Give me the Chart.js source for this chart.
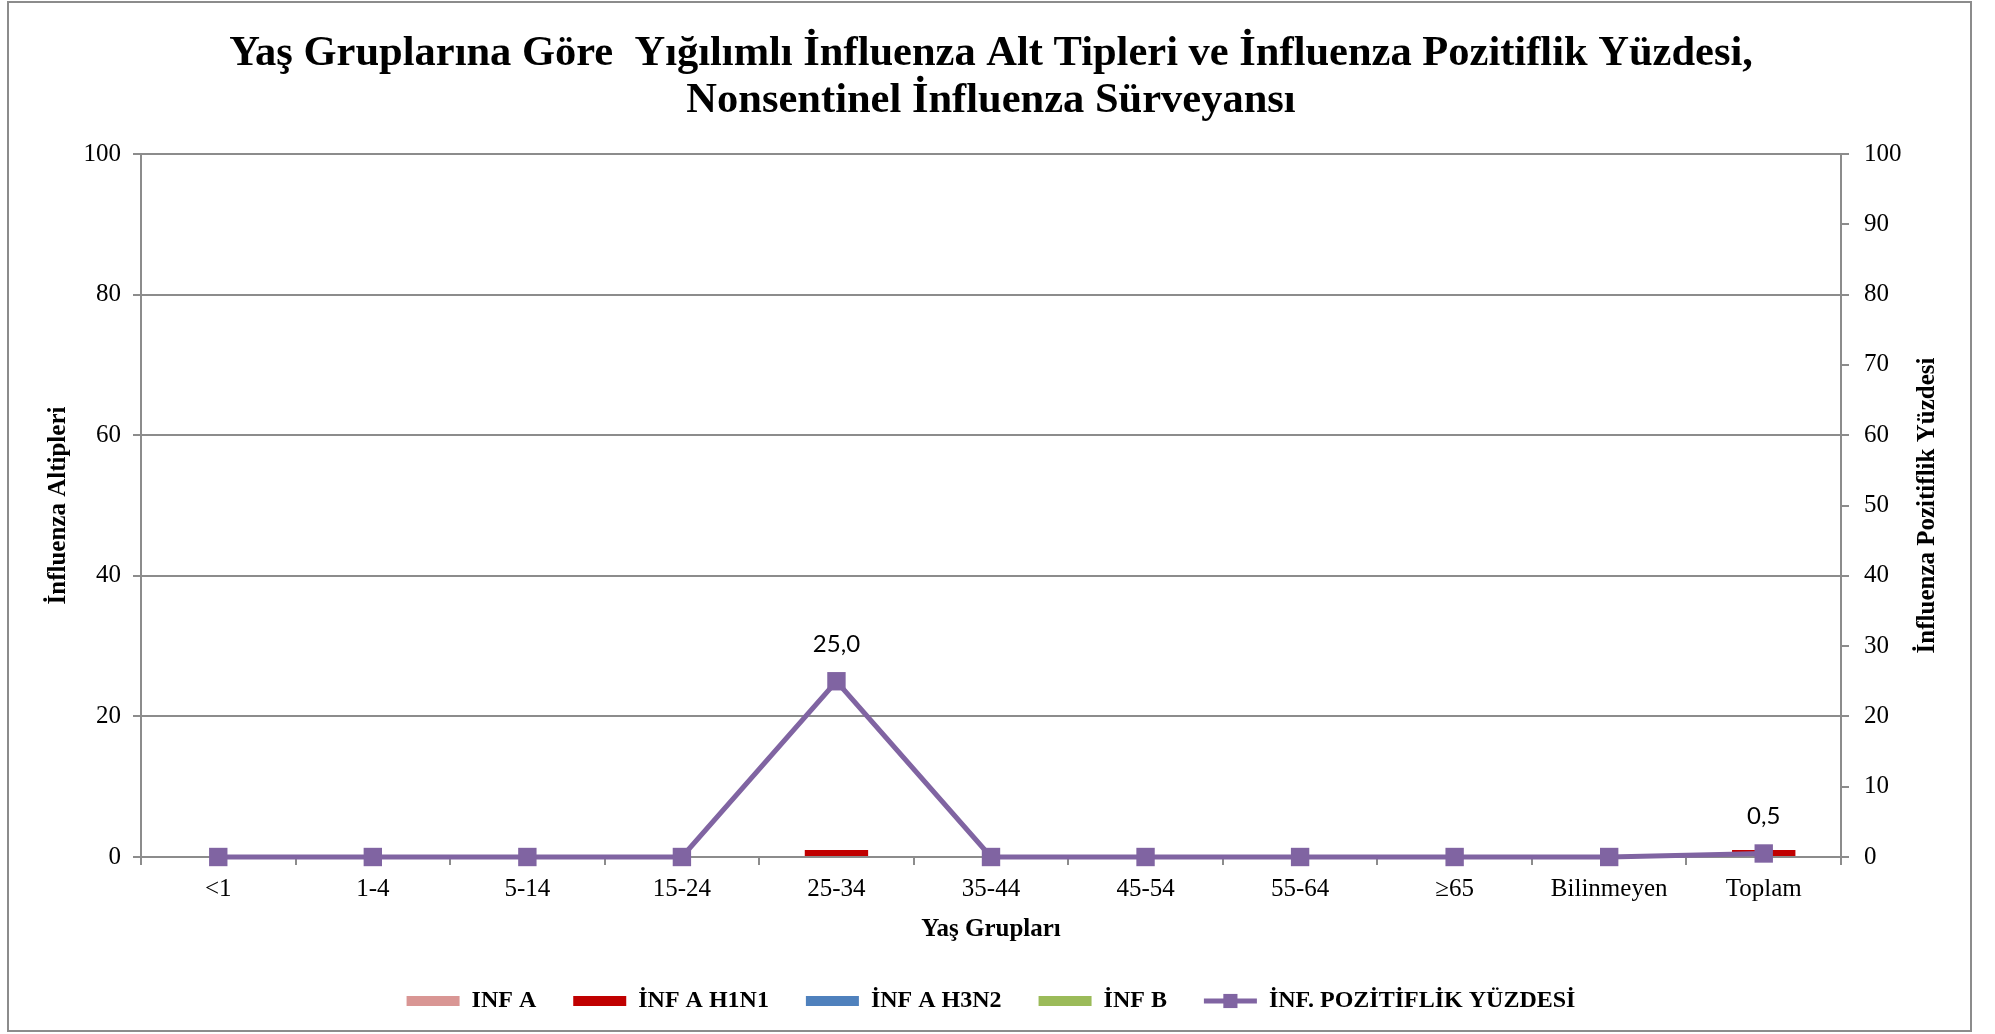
<!DOCTYPE html>
<html>
<head>
<meta charset="utf-8">
<script src="https://cdn.jsdelivr.net/npm/chart.js@4.4.1/dist/chart.umd.min.js"></script>
<style>
  html, body { margin: 0; padding: 0; background: #fff; }
</style>
</head>
<body>
<canvas id="chart" width="1995" height="1034"></canvas>
<script>
// --- data ---
const categories = ['<1', '1-4', '5-14', '15-24', '25-34', '35-44', '45-54', '55-64', '≥65', 'Bilinmeyen', 'Toplam'];
const infA     = [0, 0, 0, 0, 0, 0, 0, 0, 0, 0, 0];
const infAH1N1 = [0, 0, 0, 0, 1, 0, 0, 0, 0, 0, 1];
const infAH3N2 = [0, 0, 0, 0, 0, 0, 0, 0, 0, 0, 0];
const infB     = [0, 0, 0, 0, 0, 0, 0, 0, 0, 0, 0];
const positivity = [0, 0, 0, 0, 25.0, 0, 0, 0, 0, 0, 0.5];

const leftTicks = [0, 20, 40, 60, 80, 100];
const rightTicks = [0, 10, 20, 30, 40, 50, 60, 70, 80, 90, 100];

const seriesLabels = ['INF A', 'İNF A H1N1', 'İNF A H3N2', 'İNF B', 'İNF. POZİTİFLİK YÜZDESİ'];
const seriesColors = ['#D99694', '#C00000', '#4F81BD', '#9BBB59', '#8064A2'];

const SERIF = "'Liberation Serif', 'Times New Roman', serif";
const GRID = '#8c8c8c';

// white page + grey frame
const frame = {
    id: 'frame',
    beforeDraw(chart) {
        const ctx = chart.ctx;
        ctx.save();
        ctx.fillStyle = '#fff';
        ctx.fillRect(0, 0, chart.width, chart.height);
        ctx.strokeStyle = '#8c8c8c';
        ctx.lineWidth = 2;
        ctx.strokeRect(8, 2, 1963, 1029);
        ctx.restore();
    }
};

// value labels over the non zero points of the line + right axis title + legend marker
const extras = {
    id: 'extras',
    afterDraw(chart) {
        const ctx = chart.ctx;
        const meta = chart.getDatasetMeta(4);
        ctx.save();
        ctx.fillStyle = '#000';
        ctx.font = "24px Lato, 'Noto Sans', sans-serif";
        ctx.textAlign = 'center';
        ctx.textBaseline = 'middle';
        meta.data.forEach((pt, i) => {
            if (positivity[i] > 0) {
                ctx.fillText(positivity[i].toFixed(1).replace('.', ','), pt.x, pt.y - 37);
            }
        });

        // right axis title, reading bottom to top like the original
        const y1 = chart.scales.y1;
        ctx.translate(1928, (y1.top + y1.bottom) / 2);
        ctx.rotate(-Math.PI / 2);
        ctx.font = 'bold 25px ' + SERIF;
        ctx.fillText('İnfluenza Pozitiflik Yüzdesi', 0, 0);
        ctx.restore();

        // square marker on the line legend entry
        const box = chart.legend.legendHitBoxes[4];
        if (box) {
            ctx.save();
            ctx.fillStyle = seriesColors[4];
            Chart.helpers.drawPoint(ctx, {pointStyle: 'rect', radius: 10, borderWidth: 0, rotation: 0},
                box.left + 53 / 2, box.top + box.height / 2);
            ctx.restore();
        }
    }
};

function barSet(i, values) {
    return {
        type: 'bar',
        label: seriesLabels[i],
        data: values,
        backgroundColor: seriesColors[i],
        borderWidth: 0,
        yAxisID: 'y',
        order: 2,
        categoryPercentage: 1,
        barPercentage: 0.41
    };
}

const ctx = document.getElementById('chart').getContext('2d');
const chart = new Chart(ctx, {
    data: {
        labels: categories,
        datasets: [
            barSet(0, infA),
            barSet(1, infAH1N1),
            barSet(2, infAH3N2),
            barSet(3, infB),
            {
                type: 'line',
                label: seriesLabels[4],
                data: positivity,
                borderColor: seriesColors[4],
                backgroundColor: seriesColors[4],
                borderWidth: 5,
                pointStyle: 'rect',
                pointRadius: 13,
                pointBorderWidth: 0,
                pointBackgroundColor: seriesColors[4],
                tension: 0,
                yAxisID: 'y1',
                order: 1,
                clip: false
            }
        ]
    },
    options: {
        responsive: false,
        animation: false,
        layout: { padding: { left: 0, right: 13, top: 0, bottom: 11 } },
        plugins: {
            tooltip: { enabled: false },
            title: {
                display: true,
                text: ['Yaş Gruplarına Göre  Yığılımlı İnfluenza Alt Tipleri ve İnfluenza Pozitiflik Yüzdesi,',
                       'Nonsentinel İnfluenza Sürveyansı'],
                color: '#000',
                font: { family: SERIF, size: 42.5, weight: 'bold', lineHeight: 1.106 },
                padding: { top: 31, bottom: 29 }
            },
            legend: {
                position: 'bottom',
                labels: {
                    usePointStyle: true,
                    pointStyleWidth: 53,
                    boxWidth: 53,
                    boxHeight: 10,
                    padding: 37,
                    color: '#000',
                    font: { family: SERIF, size: 24, weight: 'bold' },
                    generateLabels(chart) {
                        return chart.data.datasets.map((ds, i) => ({
                            text: ds.label,
                            fillStyle: seriesColors[i],
                            strokeStyle: seriesColors[i],
                            lineWidth: ds.type === 'line' ? 5 : 0,
                            pointStyle: ds.type === 'line' ? 'line' : 'rect',
                            rotation: 0,
                            hidden: false,
                            datasetIndex: i,
                            fontColor: '#000'
                        }));
                    }
                }
            }
        },
        scales: {
            x: {
                stacked: true,
                offset: true,
                afterFit(scale) { scale.height = 95; },
                grid: { offset: true, drawOnChartArea: false, drawTicks: true, tickLength: 8, color: GRID, lineWidth: 2 },
                border: { color: GRID, width: 2 },
                ticks: { color: '#000', padding: 9, font: { family: SERIF, size: 25 } },
                title: {
                    display: true,
                    text: 'Yaş Grupları',
                    color: '#000',
                    font: { family: SERIF, size: 25, weight: 'bold', lineHeight: 1.0 },
                    padding: { top: 0, bottom: 10 }
                }
            },
            y: {
                stacked: true,
                position: 'left',
                min: leftTicks[0],
                max: leftTicks[leftTicks.length - 1],
                afterFit(scale) { scale.width = 141; },
                afterBuildTicks(scale) { scale.ticks = leftTicks.map(v => ({ value: v })); },
                grid: { color: GRID, lineWidth: 2, drawTicks: true, tickLength: 8 },
                border: { color: GRID, width: 2 },
                ticks: { color: '#000', padding: 12, font: { family: SERIF, size: 25 } },
                title: {
                    display: true,
                    text: 'İnfluenza Altipleri',
                    color: '#000',
                    font: { family: SERIF, size: 25, weight: 'bold', lineHeight: 1.2 },
                    padding: { top: 44, bottom: 0 }
                }
            },
            y1: {
                position: 'right',
                min: rightTicks[0],
                max: rightTicks[rightTicks.length - 1],
                afterFit(scale) { scale.width = 141; },
                afterBuildTicks(scale) { scale.ticks = rightTicks.map(v => ({ value: v })); },
                grid: { drawOnChartArea: false, color: GRID, lineWidth: 2, drawTicks: true, tickLength: 8 },
                border: { color: GRID, width: 2 },
                ticks: { color: '#000', padding: 15, font: { family: SERIF, size: 25 } }
            }
        }
    },
    plugins: [frame, extras]
});
</script>
</body>
</html>
